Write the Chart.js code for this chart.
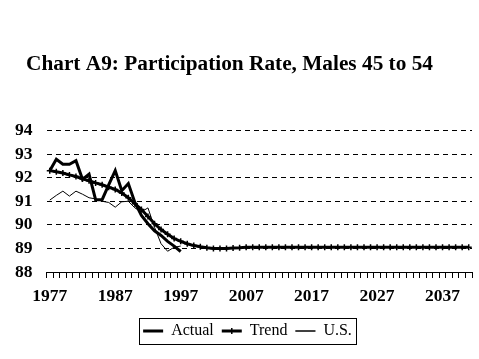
<!DOCTYPE html>
<html>
<head>
<meta charset="utf-8">
<title>Chart A9</title>
<script src="https://cdn.jsdelivr.net/npm/chart.js@4"></script>
<style>
  html, body { margin: 0; padding: 0; background: #fff; }
  canvas { display: block; }
</style>
</head>
<body>
<canvas id="chart" width="479" height="359"></canvas>
<script>
const years = [
  '1977','1978','1979','1980','1981','1982','1983','1984','1985','1986',
  '1987','1988','1989','1990','1991','1992','1993','1994','1995','1996',
  '1997','1998','1999','2000','2001','2002','2003','2004','2005','2006',
  '2007','2008','2009','2010','2011','2012','2013','2014','2015','2016',
  '2017','2018','2019','2020','2021','2022','2023','2024','2025','2026',
  '2027','2028','2029','2030','2031','2032','2033','2034','2035','2036',
  '2037','2038','2039','2040','2041'
];

// historical, 1977-1997
const actual = [
  92.3, 92.78, 92.57, 92.57, 92.72, 91.93, 92.15, 91.07, 91.07, 91.7,
  92.3, 91.45, 91.75, 90.95, 90.4, 90.05, 89.75, 89.55, 89.3, 89.1,
  88.87
];

const trend = [
  92.3, 92.25, 92.2, 92.12, 92.05, 91.95, 91.87, 91.78, 91.7, 91.6,
  91.5, 91.35, 91.15, 90.9, 90.65, 90.35, 90.05, 89.8, 89.6, 89.42,
  89.3, 89.2, 89.12, 89.07, 89.03, 89.0, 89.0, 89.0, 89.02, 89.03,
  89.05, 89.05, 89.05, 89.05, 89.05, 89.05, 89.05, 89.05, 89.05, 89.05,
  89.05, 89.05, 89.05, 89.05, 89.05, 89.05, 89.05, 89.05, 89.05, 89.05,
  89.05, 89.05, 89.05, 89.05, 89.05, 89.05, 89.05, 89.05, 89.05, 89.05,
  89.05, 89.05, 89.05, 89.05, 89.05
];

const us = [
  91.05, 91.25, 91.43, 91.22, 91.43, 91.3, 91.15, 91.1, 91.0, 90.95,
  90.75, 90.98, 91.0, 90.72, 90.55, 90.72, 89.9, 89.2, 88.88, 89.05,
  89.1
];

const yTicks = [88, 89, 90, 91, 92, 93, 94];

const serif = '"Liberation Serif", "Times New Roman", serif';

// the original centres title and legend a little off the plot's middle
const shiftBlocks = {
    id: 'shiftBlocks',
    afterLayout(chart) {
        const move = (box, dx) => {
            if (!box) return;
            box.left += dx;
            box.right += dx;
        };
        move(chart.titleBlock, -7);
        move(chart.legend, 11);
    }
};

// box round the legend, plus the trend marker in its sample
const legendFrame = {
    id: 'legendFrame',
    afterDraw(chart) {
        const lg = chart.legend;
        if (!lg || !lg.legendHitBoxes.length) return;
        const boxes = lg.legendHitBoxes;
        const left = Math.min(...boxes.map(b => b.left)) - 4;
        const right = Math.max(...boxes.map(b => b.left + b.width)) + 4;
        const top = Math.min(...boxes.map(b => b.top)) - 5;
        const bottom = Math.max(...boxes.map(b => b.top + b.height)) + 5;
        const ctx = chart.ctx;
        ctx.save();
        ctx.strokeStyle = '#000';
        ctx.lineWidth = 1;
        ctx.strokeRect(Math.round(left) + 0.5, Math.round(top) + 0.5, Math.round(right - left), Math.round(bottom - top));
        const t = boxes[1];
        const cx = t.left + lg.options.labels.boxWidth / 2;
        const cy = t.top + t.height / 2;
        ctx.lineWidth = 1.5;
        ctx.beginPath();
        ctx.moveTo(cx, cy - 3);
        ctx.lineTo(cx, cy + 3);
        ctx.stroke();
        ctx.restore();
    }
};

new Chart(document.getElementById('chart'), {
    type: 'line',
    data: {
        labels: years,
        datasets: [
            {
                label: 'Actual',
                data: actual,
                borderColor: '#000',
                backgroundColor: '#000',
                borderWidth: 3,
                pointRadius: 0,
                tension: 0
            },
            {
                label: 'Trend',
                data: trend,
                borderColor: '#000',
                backgroundColor: '#000',
                borderWidth: 3,
                pointStyle: 'cross',
                pointRadius: 3,
                pointBorderWidth: 1.5,
                tension: 0
            },
            {
                label: 'U.S.',
                data: us,
                borderColor: '#000',
                backgroundColor: '#000',
                borderWidth: 1,
                pointRadius: 0,
                tension: 0
            }
        ]
    },
    options: {
        responsive: false,
        animation: false,
        layout: { padding: { left: 1, right: 7, top: 0, bottom: 10 } },
        plugins: {
            title: {
                display: true,
                text: 'Chart A9: Participation Rate, Males 45 to 54',
                color: '#000',
                font: { family: serif, size: 21.3, weight: 'bold' },
                padding: { top: 52, bottom: 53 }
            },
            legend: {
                position: 'bottom',
                labels: {
                    color: '#000',
                    font: { family: serif, size: 16 },
                    boxWidth: 20,
                    boxHeight: 0,
                    padding: 8
                }
            },
            tooltip: { enabled: false }
        },
        scales: {
            x: {
                offset: true,
                grid: {
                    offset: true,
                    drawOnChartArea: false,
                    drawTicks: true,
                    tickLength: 6,
                    color: '#000'
                },
                border: { display: true, color: '#000', width: 1 },
                ticks: {
                    autoSkip: false,
                    maxRotation: 0,
                    color: '#000',
                    padding: 8,
                    font: { family: serif, size: 17.5, weight: 'bold' },
                    callback: (v, i) => (i % 10 === 0 ? years[i] : '')
                }
            },
            y: {
                min: yTicks[0],
                max: yTicks[yTicks.length - 1],
                afterBuildTicks: axis => { axis.ticks = yTicks.map(v => ({ value: v })); },
                grid: {
                    color: ctx => (ctx.tick && ctx.tick.value === 88 ? 'rgba(0,0,0,0)' : '#000'),
                    drawTicks: false
                },
                border: { display: false, dash: [5, 4] },
                ticks: {
                    autoSkip: false,
                    color: '#000',
                    padding: 14,
                    font: { family: serif, size: 17.5, weight: 'bold' }
                }
            }
        }
    },
    plugins: [shiftBlocks, legendFrame]
});
</script>
</body>
</html>
